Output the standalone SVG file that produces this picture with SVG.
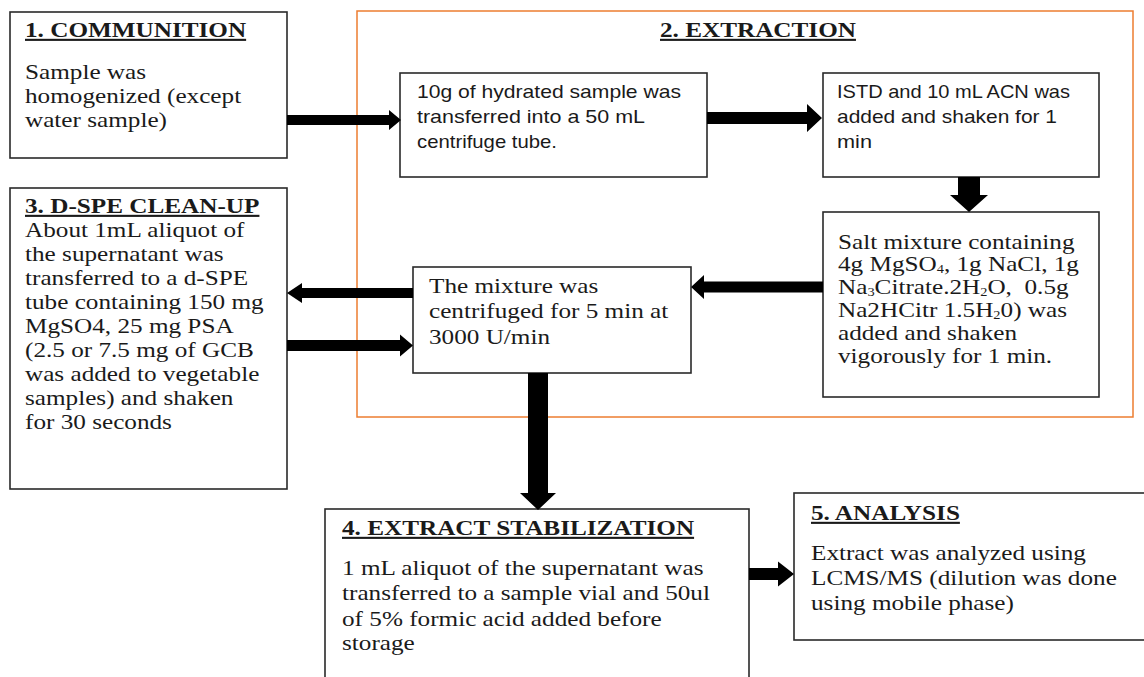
<svg xmlns="http://www.w3.org/2000/svg" width="1144" height="677" viewBox="0 0 1144 677">
<style>
.box{fill:#fff;stroke:#2a2a2a;stroke-width:1.6}
.frame{fill:none;stroke:#ed7d31;stroke-width:1.5}
.arr{fill:#000;stroke:none}
.s{font-family:"Liberation Serif","Times New Roman",serif;font-size:21px;fill:#1a1a1a}
.h{font-family:"Liberation Serif","Times New Roman",serif;font-size:21px;font-weight:bold;fill:#1a1a1a;text-decoration:underline}
.c{font-family:"Liberation Sans",Arial,sans-serif;font-size:18.5px;fill:#1a1a1a}
.sub{font-size:12px}
</style>

<g id="extraction-frame">
<rect class="frame" x="357" y="11" width="776" height="406"/>
<text class="h" transform="translate(660 0) scale(1.2 1)" x="0" y="37">2. EXTRACTION</text>
</g>

<g id="node-communition">
<rect class="box" x="10" y="12" width="277" height="146"/>
<text class="h" transform="translate(25 0) scale(1.2 1)" x="0" y="37">1. COMMUNITION</text>
<text class="s" transform="translate(25 0) scale(1.2 1)"><tspan x="0" y="79">Sample was</tspan><tspan x="0" y="103">homogenized (except</tspan><tspan x="0" y="127">water sample)</tspan></text>
</g>

<g id="node-hydrated">
<rect class="box" x="400" y="73" width="307" height="104"/>
<text class="c" x="417" y="98" textLength="264" lengthAdjust="spacingAndGlyphs">10g of hydrated sample was</text>
<text class="c" x="417" y="123" textLength="228" lengthAdjust="spacingAndGlyphs">transferred into a 50 mL</text>
<text class="c" x="417" y="148" textLength="140" lengthAdjust="spacingAndGlyphs">centrifuge tube.</text>
</g>

<g id="node-istd">
<rect class="box" x="823" y="73" width="276" height="104"/>
<text class="c" x="837" y="98" textLength="233" lengthAdjust="spacingAndGlyphs">ISTD and 10 mL ACN was</text>
<text class="c" x="837" y="123" textLength="220" lengthAdjust="spacingAndGlyphs">added and shaken for 1</text>
<text class="c" x="837" y="148" textLength="35" lengthAdjust="spacingAndGlyphs">min</text>
</g>

<g id="node-salt">
<rect class="box" x="823" y="212" width="276" height="185"/>
<text class="s" transform="translate(838 0) scale(1.2 1)"><tspan x="0" y="249">Salt mixture containing</tspan><tspan x="0" y="271.5">4g MgSO</tspan><tspan class="sub" dy="2">4</tspan><tspan dy="-2">, 1g NaCl, 1g</tspan><tspan x="0" y="294.5">Na</tspan><tspan class="sub" dy="2">3</tspan><tspan dy="-2">Citrate.2H</tspan><tspan class="sub" dy="2">2</tspan><tspan dy="-2" xml:space="preserve">O,  0.5g</tspan><tspan x="0" y="317">Na2HCitr 1.5H</tspan><tspan class="sub" dy="2">2</tspan><tspan dy="-2">0) was</tspan><tspan x="0" y="340">added and shaken</tspan><tspan x="0" y="363">vigorously for 1 min.</tspan></text>
</g>

<g id="node-centrifuge">
<rect class="box" x="413" y="267" width="278" height="106"/>
<text class="s" transform="translate(429 0) scale(1.2 1)"><tspan x="0" y="293">The mixture was</tspan><tspan x="0" y="318.5">centrifuged for 5 min at</tspan><tspan x="0" y="344">3000 U/min</tspan></text>
</g>

<g id="node-dspe">
<rect class="box" x="10" y="188" width="277" height="301"/>
<text class="h" transform="translate(25 0) scale(1.2 1)" x="0" y="213">3. D-SPE CLEAN-UP</text>
<text class="s" transform="translate(25 0) scale(1.2 1)"><tspan x="0" y="237">About 1mL aliquot of</tspan><tspan x="0" y="261">the supernatant was</tspan><tspan x="0" y="285">transferred to a d-SPE</tspan><tspan x="0" y="309">tube containing 150 mg</tspan><tspan x="0" y="333">MgSO4, 25 mg PSA</tspan><tspan x="0" y="357">(2.5 or 7.5 mg of GCB</tspan><tspan x="0" y="381">was added to vegetable</tspan><tspan x="0" y="405">samples) and shaken</tspan><tspan x="0" y="429">for 30 seconds</tspan></text>
</g>

<g id="node-stabilization">
<rect class="box" x="325" y="509" width="424" height="180"/>
<text class="h" transform="translate(342 0) scale(1.2 1)" x="0" y="535">4. EXTRACT STABILIZATION</text>
<text class="s" transform="translate(342 0) scale(1.2 1)"><tspan x="0" y="575">1 mL aliquot of the supernatant was</tspan><tspan x="0" y="600">transferred to a sample vial and 50ul</tspan><tspan x="0" y="626">of 5% formic acid added before</tspan><tspan x="0" y="650">storage</tspan></text>
</g>

<g id="node-analysis">
<rect class="box" x="794" y="493" width="360" height="147"/>
<text class="h" transform="translate(811 0) scale(1.2 1)" x="0" y="520">5. ANALYSIS</text>
<text class="s" transform="translate(811 0) scale(1.2 1)"><tspan x="0" y="560">Extract was analyzed using</tspan><tspan x="0" y="585">LCMS/MS (dilution was done</tspan><tspan x="0" y="610">using mobile phase)</tspan></text>
</g>

<g id="connectors">
<polygon class="arr" points="287,115 389,115 389,110 401,120 389,130 389,125 287,125"/>
<polygon class="arr" points="707,112 807,112 807,104 822,118 807,132 807,124 707,124"/>
<polygon class="arr" points="958,177 980,177 980,195 988,195 969,212 950,195 958,195"/>
<polygon class="arr" points="823,281.5 704,281.5 704,275 691,287 704,299 704,292.5 823,292.5"/>
<polygon class="arr" points="413,288 302,288 302,283 287,293 302,303 302,298 413,298"/>
<polygon class="arr" points="287,340 400,340 400,334.5 413,345.5 400,356.5 400,351 287,351"/>
<polygon class="arr" points="528,373 548,373 548,493 556,493 538,510 520,493 528,493"/>
<polygon class="arr" points="749,568 778,568 778,561.5 794,574 778,586.5 778,580 749,580"/>
</g>
</svg>
